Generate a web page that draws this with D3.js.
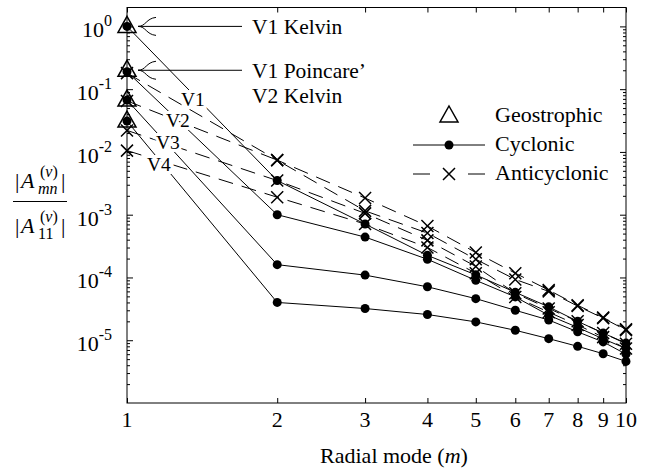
<!DOCTYPE html>
<html>
<head>
<meta charset="utf-8">
<script src="https://cdn.jsdelivr.net/npm/d3@7"></script>
<style>
  body { margin: 0; background: #fff; }
  text { font-family: "Liberation Serif", "Times New Roman", serif; fill: #000; }
  .axis path { display: none; }
  .axis line { stroke: #000; stroke-width: 1; }
</style>
</head>
<body>
<div class="container"></div>
<script>
// radial modes on the x axis
var modes = [1, 2, 3, 4, 5, 6, 7, 8, 9, 10];

// geostrophic amplitudes (m = 1 only)
var geoVals = [1.0, 0.2, 0.067, 0.031];

// cyclonic series V1..V4
var cyc1 = [1.0, 3.5e-3, 7.1e-4, 2.25e-4, 1.1e-4, 5.8e-5, 3.4e-5, 2.0e-5, 1.3e-5, 9.0e-6];
var cyc2 = [0.19, 1.0e-3, 4.4e-4, 1.95e-4, 9.0e-5, 4.9e-5, 2.5e-5, 1.6e-5, 1.05e-5, 7.4e-6];
var cyc3 = [0.067, 1.6e-4, 1.09e-4, 7.1e-5, 4.6e-5, 3.0e-5, 2.1e-5, 1.36e-5, 9.4e-6, 6.0e-6];
var cyc4 = [0.031, 4.0e-5, 3.2e-5, 2.57e-5, 1.96e-5, 1.44e-5, 1.06e-5, 8.0e-6, 6.1e-6, 4.6e-6];

// anticyclonic series V1..V4
var anti1 = [0.18, 7.4e-3, 1.84e-3, 6.6e-4, 2.5e-4, 1.17e-4, 6.3e-5, 3.6e-5, 2.3e-5, 1.5e-5];
var anti2 = [0.065, 7.4e-3, 1.15e-3, 5.1e-4, 1.95e-4, 9.3e-5, 6.0e-5, 3.5e-5, 2.25e-5, 1.45e-5];
var anti3 = [0.022, 3.5e-3, 1.05e-3, 3.9e-4, 1.5e-4, 5.6e-5, 3.2e-5, 2.0e-5, 1.3e-5, 8.8e-6];
var anti4 = [0.0105, 1.9e-3, 7.1e-4, 3.0e-4, 1.17e-4, 4.9e-5, 2.8e-5, 1.75e-5, 1.12e-5, 7.4e-6];

var yTickExps = [0, -1, -2, -3, -4, -5];
var vLabels = ["V1", "V2", "V3", "V4"];

const WIDTH = 652;
const HEIGHT = 469;
const LEFT = 127, RIGHT = 626, TOP = 7.5, BOTTOM = 403;

var xScale = d3.scaleLog().domain([1, 10]).range([LEFT, RIGHT]);
var yScale = d3.scaleLog().domain([1e-6, 2]).range([BOTTOM, TOP]);

var svg = d3.select('.container').append('svg')
  .attr('width', WIDTH)
  .attr('height', HEIGHT);

// minor y ticks
var minorY = [];
for (var e = -6; e <= 0; e++) {
  for (var k = 2; k <= 9; k++) {
    var v = k * Math.pow(10, e);
    if (v < 2) minorY.push(v);
  }
}
var majorY = yTickExps.map(function(p){ return Math.pow(10, p); });

svg.append('g').attr('class', 'axis')
  .attr('transform', 'translate(0,' + BOTTOM + ')')
  .call(d3.axisBottom(xScale).tickValues(modes).tickSize(-5).tickFormat(''));
svg.append('g').attr('class', 'axis')
  .attr('transform', 'translate(0,' + TOP + ')')
  .call(d3.axisTop(xScale).tickValues(modes).tickSize(-5).tickFormat(''));
svg.append('g').attr('class', 'axis')
  .attr('transform', 'translate(' + LEFT + ',0)')
  .call(d3.axisLeft(yScale).tickValues(majorY).tickSize(-6).tickFormat(''));
svg.append('g').attr('class', 'axis')
  .attr('transform', 'translate(' + LEFT + ',0)')
  .call(d3.axisLeft(yScale).tickValues(minorY).tickSize(-3).tickFormat(''));
svg.append('g').attr('class', 'axis')
  .attr('transform', 'translate(' + RIGHT + ',0)')
  .call(d3.axisRight(yScale).tickValues(majorY).tickSize(-6).tickFormat(''));
svg.append('g').attr('class', 'axis')
  .attr('transform', 'translate(' + RIGHT + ',0)')
  .call(d3.axisRight(yScale).tickValues(minorY).tickSize(-3).tickFormat(''));

svg.append('rect')
  .attr('x', LEFT).attr('y', TOP)
  .attr('width', RIGHT - LEFT).attr('height', BOTTOM - TOP)
  .attr('fill', 'none').attr('stroke', '#000').attr('stroke-width', 1);

// x tick labels
svg.append('g').selectAll('text').data(modes).enter().append('text')
  .attr('x', function(d){ return xScale(d); })
  .attr('y', 427)
  .attr('text-anchor', 'middle')
  .attr('font-size', 22)
  .text(function(d){ return d; });

// y tick labels 10^n
var yl = svg.append('g').selectAll('text').data(yTickExps).enter().append('text')
  .attr('x', 112)
  .attr('y', function(d){ return yScale(Math.pow(10, d)) + 11; })
  .attr('text-anchor', 'end')
  .attr('font-size', 22);
yl.append('tspan').text('10');
yl.append('tspan').attr('dy', -11).attr('font-size', 16)
  .text(function(d){ return d === 0 ? '0' : '-' + (-d); });

// axis title
var xt = svg.append('text').attr('x', 394).attr('y', 463)
  .attr('text-anchor', 'middle').attr('font-size', 22);
xt.append('tspan').text('Radial mode (');
xt.append('tspan').attr('font-style', 'italic').text('m');
xt.append('tspan').text(')');

// y title as a fraction
var drawAmp = function(baseY, sub){
  var g = svg.append('g');
  g.append('text').attr('x', 15).attr('y', baseY).attr('font-size', 22).text('|');
  g.append('text').attr('x', 21).attr('y', baseY).attr('font-size', 22)
    .attr('font-style', 'italic').text('A');
  var sp = g.append('text').attr('x', 40).attr('y', baseY - 11).attr('font-size', 16);
  sp.append('tspan').text('(');
  sp.append('tspan').attr('font-style', 'italic').text('v');
  sp.append('tspan').text(')');
  g.append('text').attr('x', 38).attr('y', baseY + 6).attr('font-size', 16)
    .attr('font-style', sub === 'mn' ? 'italic' : 'normal').text(sub);
  g.append('text').attr('x', 61).attr('y', baseY).attr('font-size', 22).text('|');
};
drawAmp(188, 'mn');
svg.append('line').attr('x1', 13).attr('x2', 67).attr('y1', 201.5).attr('y2', 201.5)
  .attr('stroke', '#000').attr('stroke-width', 1);
drawAmp(233, '11');

var line = d3.line()
  .x(function(d, i){ return xScale(modes[i]); })
  .y(function(d){ return yScale(d); });

var cycSeries = [cyc1, cyc2, cyc3, cyc4];
var antiSeries = [anti1, anti2, anti3, anti4];

svg.append('g').selectAll('path').data(antiSeries).enter().append('path')
  .attr('d', line)
  .attr('fill', 'none').attr('stroke', '#000').attr('stroke-width', 1)
  .attr('stroke-dasharray', '15,9');
svg.append('g').selectAll('path').data(cycSeries).enter().append('path')
  .attr('d', line)
  .attr('fill', 'none').attr('stroke', '#000').attr('stroke-width', 1);

// V labels with white halo to cut the lines
var vPos = [[181, 106], [166, 127], [156, 149], [147, 171]];
svg.append('g').selectAll('text').data(vLabels).enter().append('text')
  .attr('x', function(d, i){ return vPos[i][0]; })
  .attr('y', function(d, i){ return vPos[i][1]; })
  .attr('font-size', 19.5)
  .attr('stroke', '#fff').attr('stroke-width', 6)
  .attr('paint-order', 'stroke')
  .text(function(d){ return d; });

var crossPath = 'M-6,-6L6,6M-6,6L6,-6';
antiSeries.forEach(function(s){
  svg.append('g').selectAll('path').data(s).enter().append('path')
    .attr('transform', function(d, i){ return 'translate(' + xScale(modes[i]) + ',' + yScale(d) + ')'; })
    .attr('d', crossPath)
    .attr('stroke', '#000').attr('stroke-width', 1.5).attr('fill', 'none');
});
cycSeries.forEach(function(s){
  svg.append('g').selectAll('circle').data(s).enter().append('circle')
    .attr('cx', function(d, i){ return xScale(modes[i]); })
    .attr('cy', function(d){ return yScale(d); })
    .attr('r', 4.5).attr('fill', '#000');
});

var triPath = 'M0,-9L9,7L-9,7Z';
svg.append('g').selectAll('path').data(geoVals).enter().append('path')
  .attr('transform', function(d){ return 'translate(' + xScale(1) + ',' + (yScale(d) - 1) + ')'; })
  .attr('d', triPath)
  .attr('fill', 'none').attr('stroke', '#000').attr('stroke-width', 1.5);

// annotation arrows
var notes = [[geoVals[0], ['V1 Kelvin']], [geoVals[1], ['V1 Poincare\u2019', 'V2 Kelvin']]];
notes.forEach(function(n){
  var yy = yScale(n[0]);
  var x0 = xScale(1) + 11;
  svg.append('line').attr('x1', x0).attr('x2', 242).attr('y1', yy).attr('y2', yy)
    .attr('stroke', '#000').attr('stroke-width', 1);
  svg.append('path')
    .attr('d', 'M' + (x0 + 18) + ',' + (yy - 9) + 'C' + (x0 + 8) + ',' + (yy - 8) + ' ' + (x0 + 8) + ',' + yy + ' ' + x0 + ',' + yy +
               'M' + (x0 + 18) + ',' + (yy + 9) + 'C' + (x0 + 8) + ',' + (yy + 8) + ' ' + (x0 + 8) + ',' + yy + ' ' + x0 + ',' + yy)
    .attr('fill', 'none').attr('stroke', '#000').attr('stroke-width', 1);
  n[1].forEach(function(t, j){
    svg.append('text').attr('x', 252).attr('y', yy + 8 + j * 25)
      .attr('font-size', 21.5).text(t);
  });
});

// legend
var lg = svg.append('g');
lg.append('path').attr('transform', 'translate(449,115)').attr('d', triPath)
  .attr('fill', 'none').attr('stroke', '#000').attr('stroke-width', 1.5);
lg.append('line').attr('x1', 413).attr('x2', 485).attr('y1', 145).attr('y2', 145)
  .attr('stroke', '#000').attr('stroke-width', 1);
lg.append('circle').attr('cx', 449).attr('cy', 145).attr('r', 4.5).attr('fill', '#000');
lg.append('line').attr('x1', 413).attr('x2', 485).attr('y1', 174).attr('y2', 174)
  .attr('stroke', '#000').attr('stroke-width', 1).attr('stroke-dasharray', '17,38');
lg.append('path').attr('transform', 'translate(449,174)').attr('d', crossPath)
  .attr('stroke', '#000').attr('stroke-width', 1.5).attr('fill', 'none');
var legNames = ['Geostrophic', 'Cyclonic', 'Anticyclonic'];
lg.selectAll('text').data(legNames).enter().append('text')
  .attr('x', 495)
  .attr('y', function(d, i){ return 122 + i * 29; })
  .attr('font-size', 22)
  .text(function(d){ return d; });
</script>
</body>
</html>
